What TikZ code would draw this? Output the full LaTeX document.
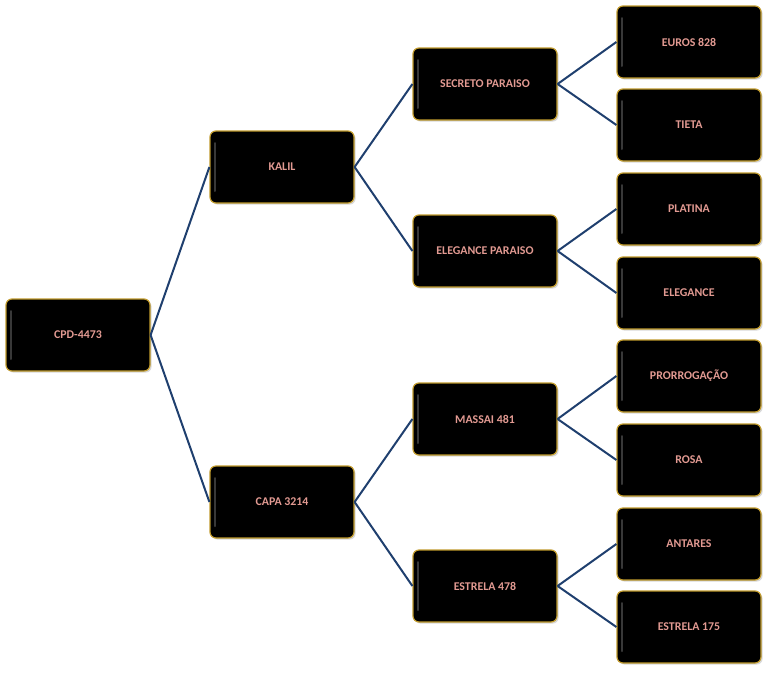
\documentclass[tikz,border=0pt]{standalone}
\usepackage{fontspec}
\setmainfont{Carlito}
\usetikzlibrary{shadows}
\definecolor{boxgold}{HTML}{C09A2C}
\definecolor{txtpink}{HTML}{E29A92}
\definecolor{linkblue}{HTML}{1F3F6E}
\tikzset{
  box/.style={rectangle, rounded corners=4.5pt, fill=black, draw=boxgold, line width=0.9pt,
    minimum width=108pt, minimum height=54pt, inner sep=0pt,
    text=txtpink, font=\bfseries\fontsize{8.9}{10}\selectfont,
    drop shadow={opacity=0.3, shadow xshift=1.2pt, shadow yshift=-1.2pt},
    path picture={\draw[white, opacity=0.22, line width=1.5pt, line cap=round]
      ([xshift=3.5pt,yshift=-9pt]path picture bounding box.north west) --
      ([xshift=3.5pt,yshift=9pt]path picture bounding box.south west);}},
  link/.style={draw=linkblue, line width=1.5pt}
}
\begin{document}
\begin{tikzpicture}[x=0.75pt, y=-0.75pt]
\useasboundingbox (0,0) rectangle (768,672);
\node[box] (root) at (78,335) {CPD-4473};
\node[box] (kalil) at (282,167) {KALIL};
\node[box] (capa) at (282,502) {CAPA 3214};
\node[box] (secreto) at (485,84) {SECRETO PARAISO};
\node[box] (elegp) at (485,251) {ELEGANCE PARAISO};
\node[box] (massai) at (485,419) {MASSAI 481};
\node[box] (estrela) at (485,586) {ESTRELA 478};
\node[box] (euros) at (689,42) {EUROS 828};
\node[box] (tieta) at (689,125) {TIETA};
\node[box] (platina) at (689,209) {PLATINA};
\node[box] (elegance) at (689,293) {ELEGANCE};
\node[box] (prorrog) at (689,376) {PRORROGAÇÃO};
\node[box] (rosa) at (689,460) {ROSA};
\node[box] (antares) at (689,544) {ANTARES};
\node[box] (estrela175) at (689,627) {ESTRELA 175};
\foreach \a/\b in {root/kalil, root/capa, kalil/secreto, kalil/elegp, capa/massai, capa/estrela,
  secreto/euros, secreto/tieta, elegp/platina, elegp/elegance, massai/prorrog, massai/rosa,
  estrela/antares, estrela/estrela175}
  \draw[link] (\a.east) -- (\b.west);
\end{tikzpicture}
\end{document}
